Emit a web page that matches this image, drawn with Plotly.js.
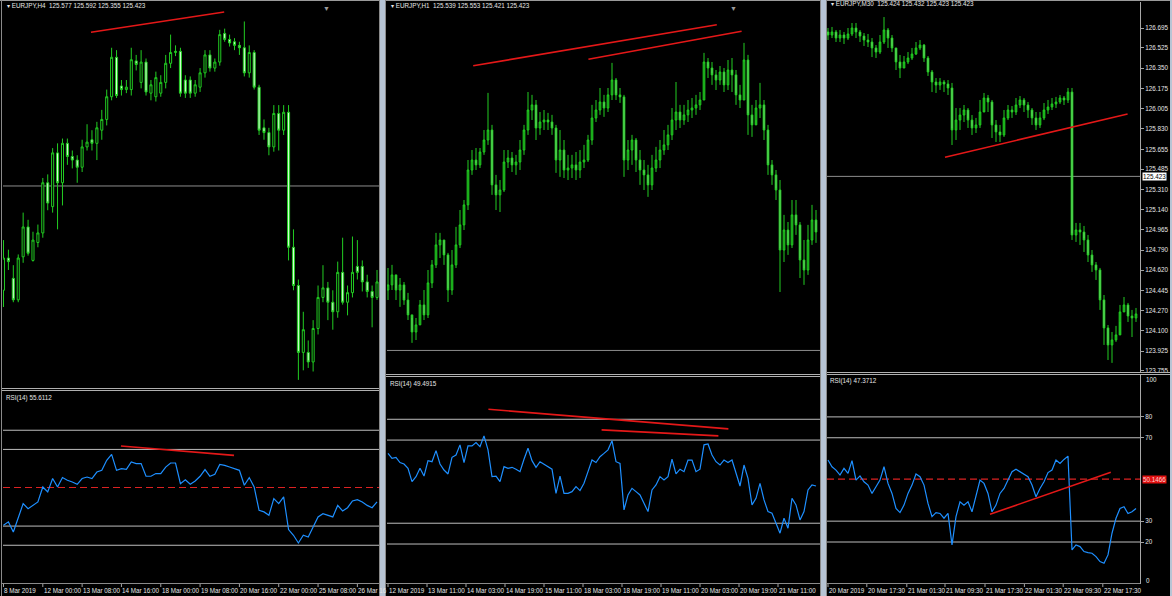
<!DOCTYPE html>
<html>
<head>
<meta charset="utf-8">
<script src="https://cdn.plot.ly/plotly-3.0.1.min.js"></script>
<style>
html,body{margin:0;padding:0;background:#000;overflow:hidden}
#chart{width:1172px;height:596px}
</style>
</head>
<body>
<div id="chart"></div>
<script>
// ================= DATA =================
// --- EURJPY H4 ---
const h4Open = [124.55,124.82,124.65,124.47,124.83,125.08,124.80,124.95,125.03,125.45,125.25,125.70,125.45,125.78,125.67,125.64,125.58,125.75,125.81,125.78,125.89,125.98,126.17,126.50,126.26,126.23,126.23,126.47,126.29,126.46,126.20,126.17,126.20,126.29,126.45,126.54,126.55,126.31,126.31,126.20,126.25,126.37,126.52,126.41,126.46,126.70,126.65,126.63,126.60,126.58,126.37,126.54,126.25,125.91,125.87,125.75,126.03,125.89,126.04,124.91,124.59,124.03,124.03,123.95,124.23,124.49,124.57,124.45,124.37,124.70,124.45,124.53,124.75,124.75,124.62,124.54,124.49];
const h4High = [124.97,124.89,124.76,124.85,125.20,125.14,125.04,125.10,125.49,125.52,125.74,125.78,125.82,125.82,125.72,125.68,125.81,125.94,125.89,125.96,126.06,126.23,126.58,126.56,126.31,126.31,126.58,126.52,126.56,126.49,126.31,126.38,126.35,126.52,126.69,126.60,126.58,126.35,126.34,126.31,126.41,126.56,126.56,126.49,126.73,126.74,126.69,126.66,126.63,126.80,126.60,126.56,126.27,125.98,125.91,126.10,126.10,126.10,126.10,125.06,124.64,124.37,124.13,124.30,124.59,124.76,124.62,124.55,124.79,124.99,124.59,125.00,124.97,124.80,124.68,124.59,124.72];
const h4Low = [124.41,124.72,124.45,124.45,124.78,124.84,124.79,124.91,124.99,125.22,125.20,125.06,125.26,125.60,125.57,125.45,125.54,125.72,125.72,125.64,125.81,125.93,126.14,126.16,126.18,126.20,126.18,126.39,126.24,126.18,126.14,126.13,126.17,126.24,126.41,126.51,126.17,126.16,126.16,126.17,126.21,126.33,126.38,126.38,126.43,126.63,126.59,126.56,126.52,126.34,126.33,126.23,125.85,125.81,125.68,125.71,125.72,125.85,124.80,124.55,123.80,123.88,123.90,123.87,124.18,124.45,124.30,124.22,124.32,124.43,124.34,124.49,124.64,124.54,124.49,124.24,124.47];
const h4Close = [124.82,124.79,124.47,124.82,125.08,124.86,124.97,125.03,125.45,125.28,125.70,125.45,125.78,125.67,125.64,125.58,125.75,125.79,125.78,125.91,125.98,126.17,126.50,126.18,126.23,126.25,126.48,126.44,126.46,126.21,126.27,126.33,126.29,126.45,126.54,126.55,126.20,126.20,126.20,126.27,126.37,126.52,126.41,126.46,126.69,126.65,126.62,126.60,126.58,126.37,126.54,126.25,125.89,125.87,125.75,126.03,125.89,126.04,124.91,124.59,124.03,124.22,123.95,124.23,124.49,124.57,124.45,124.37,124.70,124.45,124.53,124.70,124.70,124.62,124.54,124.49,124.62];
const h4Rsi = [30.4,32.2,26.9,34.8,41.7,39.1,40.8,42.6,50.4,47.8,54.8,50.4,55.3,53.9,53.0,51.8,54.8,55.6,54.8,58.2,59.1,64.3,67.4,59.1,60.0,59.6,63.5,62.6,62.6,56.0,56.0,57.4,57.4,60.8,62.9,62.9,52.1,54.2,51.8,53.5,56.0,59.5,56.0,57.0,62.2,61.7,60.8,60.0,59.1,51.3,55.3,50.4,38.2,37.4,35.6,44.3,41.7,45.2,28.2,25.2,21.2,25.2,24.3,29.5,34.8,36.5,35.6,34.8,40.8,37.9,39.6,43.1,43.8,42.6,40.8,39.6,42.6];
const h4DateIdx = [0,8,16,24,32,40,48,56,64,72];
const h4DateText = ["8 Mar 2019","12 Mar 00:00","13 Mar 08:00","14 Mar 16:00","18 Mar 00:00","19 Mar 08:00","20 Mar 16:00","22 Mar 00:00","25 Mar 08:00","26 Mar 16"];
const h4TrendX = [17.8, 44.9];
const h4TrendY = [126.71, 126.88];
const h4RsiTrendX = [23.9, 46.9];
const h4RsiTrendY = [71.8, 66.9];

// --- EURJPY H1 ---
const h1Open = [125.695,125.718,125.763,125.695,125.718,125.650,125.583,125.506,125.538,125.628,125.583,125.727,125.808,125.898,125.920,125.853,125.695,125.808,125.898,125.988,126.078,126.235,126.280,126.258,126.316,126.370,126.415,126.168,126.123,126.145,126.271,126.289,126.258,126.271,126.325,126.415,126.505,126.528,126.424,126.451,126.460,126.451,126.424,126.280,126.325,126.235,126.244,126.258,126.235,126.271,126.280,126.370,126.469,126.505,126.541,126.514,126.573,126.640,126.573,126.564,126.280,126.325,126.370,126.280,126.235,126.213,126.168,126.244,126.280,126.325,126.348,126.393,126.460,126.496,126.460,126.483,126.505,126.514,126.528,126.550,126.721,126.694,126.663,126.640,126.676,126.618,126.685,126.663,126.573,126.550,126.730,126.483,126.438,126.514,126.528,126.415,126.258,126.213,126.145,125.875,125.965,125.898,126.033,125.988,125.830,125.785,125.920,126.010];
const h1High = [125.794,125.808,125.740,125.749,125.731,125.682,125.569,125.569,125.650,125.695,125.785,125.830,125.952,125.952,125.920,125.862,125.875,125.979,126.055,126.100,126.280,126.325,126.334,126.334,126.415,126.582,126.438,126.213,126.190,126.325,126.325,126.316,126.303,126.370,126.438,126.586,126.573,126.550,126.496,126.505,126.492,126.483,126.438,126.415,126.370,126.303,126.303,126.316,126.325,126.348,126.393,126.528,126.550,126.604,126.573,126.604,126.717,126.649,126.604,126.573,126.370,126.393,126.379,126.325,126.280,126.258,126.303,126.339,126.370,126.415,126.438,126.514,126.631,126.528,126.528,126.550,126.559,126.573,126.586,126.762,126.739,126.721,126.685,126.703,126.694,126.730,126.739,126.685,126.618,126.807,126.753,126.528,126.550,126.627,126.550,126.438,126.280,126.235,126.190,126.033,126.001,126.100,126.100,126.001,125.920,125.988,126.078,126.055];
const h1Low = [125.650,125.695,125.650,125.619,125.628,125.560,125.457,125.470,125.538,125.560,125.569,125.704,125.794,125.839,125.808,125.641,125.673,125.794,125.884,125.965,126.055,126.213,126.235,126.244,126.303,126.348,126.123,126.055,126.046,126.136,126.244,126.226,126.213,126.235,126.303,126.393,126.460,126.370,126.393,126.415,126.415,126.393,126.222,126.204,126.199,126.190,126.199,126.190,126.199,126.244,126.271,126.348,126.451,126.483,126.474,126.496,126.550,126.550,126.537,126.204,126.235,126.258,126.226,126.168,126.145,126.114,126.145,126.226,126.244,126.303,126.325,126.370,126.415,126.424,126.438,126.451,126.469,126.483,126.505,126.550,126.649,126.618,126.595,126.618,126.586,126.595,126.586,126.528,126.514,126.550,126.393,126.384,126.460,126.469,126.370,126.213,126.168,126.100,125.686,125.821,125.853,125.884,125.943,125.749,125.718,125.763,125.898,125.907];
const h1Close = [125.718,125.763,125.695,125.718,125.650,125.583,125.506,125.538,125.628,125.583,125.727,125.808,125.898,125.920,125.853,125.695,125.808,125.898,125.988,126.078,126.235,126.280,126.258,126.316,126.370,126.415,126.168,126.123,126.145,126.271,126.289,126.258,126.271,126.325,126.415,126.505,126.528,126.424,126.451,126.460,126.451,126.424,126.280,126.325,126.235,126.244,126.258,126.235,126.271,126.280,126.370,126.469,126.505,126.541,126.514,126.573,126.640,126.573,126.564,126.280,126.325,126.370,126.280,126.235,126.213,126.168,126.244,126.280,126.325,126.348,126.393,126.460,126.496,126.460,126.483,126.505,126.514,126.528,126.550,126.721,126.694,126.663,126.640,126.676,126.618,126.685,126.663,126.573,126.550,126.730,126.483,126.438,126.514,126.528,126.415,126.258,126.213,126.145,125.875,125.965,125.898,126.033,125.988,125.830,125.785,125.920,126.010,125.956];
const h1Rsi = [63.6,61.2,61.7,59.2,58.5,56.4,50.0,52.4,56.4,52.7,60.1,59.6,64.9,58.5,55.6,53.7,61.7,62.8,67.7,59.2,67.2,67.2,68.8,66.8,72.0,65.3,52.4,52.7,50.0,57.2,56.4,56.9,56.0,54.8,60.8,66.1,60.1,56.9,59.6,58.5,57.2,56.0,44.4,52.7,44.4,44.4,45.2,47.6,45.7,49.2,54.8,60.4,59.2,62.0,63.6,65.3,69.7,59.6,58.8,36.4,43.6,46.8,45.2,43.6,39.6,35.6,46.0,48.4,52.4,50.8,52.4,60.8,53.7,56.0,54.8,60.4,60.4,54.8,56.0,67.7,68.1,62.8,59.6,58.0,60.4,59.2,60.4,54.0,47.9,58.0,51.6,38.8,42.0,49.2,41.2,35.6,34.8,30.0,25.2,32.4,27.6,42.0,38.8,31.6,35.6,46.0,48.4,47.9];
const h1DateIdx = [0,9.75,19.5,29.25,39,48.75,58.5,68.25,78,87.75,97.5];
const h1DateText = ["12 Mar 2019","13 Mar 11:00","14 Mar 03:00","14 Mar 19:00","15 Mar 11:00","18 Mar 03:00","18 Mar 19:00","19 Mar 11:00","20 Mar 03:00","20 Mar 19:00","21 Mar 11:00"];
const h1TrendAX = [21.3, 82.2];
const h1TrendAY = [126.704, 126.889];
const h1TrendBX = [50.1, 88.4];
const h1TrendBY = [126.733, 126.859];
const h1RsiTrendAX = [25.1, 85.1];
const h1RsiTrendAY = [84.8, 75.4];
const h1RsiTrendBX = [53.4, 82.6];
const h1RsiTrendBY = [74.9, 72.0];

// --- EURJPY M30 ---
const m30Open = [126.661,126.635,126.661,126.609,126.635,126.609,126.644,126.695,126.661,126.626,126.592,126.575,126.524,126.489,126.575,126.678,126.609,126.524,126.404,126.352,126.404,126.438,126.472,126.524,126.549,126.438,126.318,126.232,126.206,126.232,126.215,126.181,125.821,125.906,125.949,125.992,125.906,125.838,125.864,125.975,126.095,126.061,125.864,125.804,125.778,125.924,125.992,125.975,126.035,126.078,126.035,125.992,125.924,125.864,125.924,125.992,126.018,126.044,126.061,126.095,126.078,126.146,124.921,124.964,124.946,124.878,124.749,124.664,124.621,124.364,124.124,123.978,124.021,124.064,124.261,124.321,124.226,124.209];
const m30High = [126.695,126.704,126.678,126.678,126.661,126.695,126.738,126.738,126.678,126.652,126.644,126.609,126.549,126.635,126.789,126.695,126.635,126.524,126.464,126.455,126.489,126.524,126.575,126.592,126.558,126.455,126.335,126.266,126.266,126.249,126.249,126.224,126.009,126.009,126.035,126.009,125.949,125.924,126.078,126.138,126.121,126.078,125.906,125.864,125.992,126.035,126.026,126.095,126.112,126.095,126.061,126.009,125.975,125.975,126.052,126.078,126.095,126.104,126.121,126.112,126.181,126.181,125.024,125.024,124.998,124.921,124.792,124.689,124.638,124.406,124.149,124.089,124.141,124.321,124.389,124.338,124.278,124.295];
const m30Low = [126.592,126.609,126.575,126.575,126.558,126.592,126.626,126.609,126.575,126.541,126.532,126.446,126.438,126.472,126.558,126.524,126.489,126.335,126.266,126.352,126.386,126.421,126.464,126.506,126.404,126.284,126.146,126.138,126.164,126.146,126.121,125.692,125.735,125.821,125.889,125.838,125.778,125.795,125.838,125.992,125.975,125.752,125.718,125.718,125.761,125.906,125.924,125.949,126.009,125.975,125.924,125.864,125.821,125.838,125.906,125.958,125.992,126.009,126.044,126.035,126.052,124.878,124.861,124.835,124.775,124.689,124.604,124.535,124.278,123.978,123.849,123.824,124.004,124.175,124.261,124.175,124.046,124.175];
const m30Close = [126.635,126.661,126.609,126.635,126.609,126.644,126.695,126.661,126.626,126.592,126.575,126.524,126.489,126.575,126.678,126.609,126.524,126.404,126.352,126.404,126.438,126.472,126.524,126.549,126.438,126.318,126.232,126.206,126.232,126.215,126.181,125.821,125.906,125.949,125.992,125.906,125.838,125.864,125.975,126.095,126.061,125.864,125.804,125.778,125.924,125.992,125.975,126.035,126.078,126.035,125.992,125.924,125.864,125.924,125.992,126.018,126.044,126.061,126.095,126.078,126.146,124.921,124.964,124.946,124.878,124.749,124.664,124.621,124.364,124.124,123.978,124.021,124.064,124.261,124.321,124.226,124.209,124.244];
const m30Rsi = [59.3,56.1,54.5,52.1,55.3,52.9,59.0,49.7,51.7,48.9,47.3,43.3,46.5,49.7,56.1,48.1,43.3,36.1,34.1,37.7,43.3,47.3,52.6,51.3,47.3,38.5,32.2,34.1,33.7,31.4,33.7,18.6,32.2,39.3,37.7,39.3,34.5,41.7,49.7,48.1,43.3,34.5,37.7,43.3,45.7,49.7,53.7,54.9,53.7,52.1,51.3,47.3,41.7,45.7,48.9,53.3,54.5,59.3,57.7,59.6,61.2,16.2,18.6,17.8,15.4,14.9,14.6,13.0,10.6,9.8,13.8,24.2,31.4,36.1,36.9,33.7,34.5,36.1];
const m30DateIdx = [0,9.7,19.7,29.25,39.25,49.1,58.8,68.7];
const m30DateText = ["20 Mar 2019","20 Mar 17:30","21 Mar 01:30","21 Mar 09:30","21 Mar 17:30","22 Mar 01:30","22 Mar 09:30","22 Mar 17:30"];
const m30PriceTicks = [126.695,126.525,126.350,126.175,126.005,125.830,125.655,125.485,125.310,125.140,124.965,124.790,124.620,124.445,124.270,124.100,123.925,123.755];
const m30TrendX = [29.25, 74.9];
const m30TrendY = [125.587, 125.958];
const m30RsiTrendX = [40.5, 70.7];
const m30RsiTrendY = [33.3, 53.4];

// --- common ---
const bidPrice = 125.423;
const rsiLevels = [80, 70, 30, 20];
const rsiMidLevel = 50.1466;
const rsiScaleEnds = [100, 0];
const headerText = ["EURJPY,H4  125.577 125.592 125.355 125.423","EURJPY,H1  125.539 125.553 125.421 125.423","EURJPY,M30  125.424 125.432 125.423 125.423"];
const rsiText = ["RSI(14) 55.6112","RSI(14) 49.4915","RSI(14) 47.3712"];

// ================= DRAWING =================
const W = 1172, H = 596;
const X = px => px / W;
const Y = py => 1 - py / H;
const FONT = 'Liberation Sans, Arial, sans-serif';
const GREEN = '#22cc22';
const RSI_BLUE = '#1e8fff';
const TREND_RED = '#e41818';

function idx(n){ const a=[]; for(let i=0;i<n;i++) a.push(i); return a; }

// panel geometry in pixels
const panels = [
  {xl:3,   xr:379,  pt:2, pb:388, rt:391.9, rb:583.6, xr0:-0.1,  xr1:76.4, pr:[123.732,126.963], rr:[0,100],
   upFill:'#000000', dnFill:'#d4ffd4'},
  {xl:387, xr:820,  pt:2, pb:374, rt:377.7, rb:583.0, xr0:-0.25, xr1:108,  pr:[125.317,126.991], rr:[1.25,100],
   upFill:'#138a13', dnFill:'#9cf09c'},
  {xl:827, xr:1140, pt:2, pb:372, rt:375.2, rb:583.7, xr0:-0.25, xr1:78,   pr:[123.746,126.918], rr:[0,100],
   upFill:'#18a018', dnFill:'#a8f8a8'}
];

const ohlc = [
  [h4Open,h4High,h4Low,h4Close,h4Rsi],
  [h1Open,h1High,h1Low,h1Close,h1Rsi],
  [m30Open,m30High,m30Low,m30Close,m30Rsi]
];

const traces = [];
const layout = {
  width:W, height:H, margin:{l:0,r:0,t:0,b:0},
  paper_bgcolor:'#000', plot_bgcolor:'#000',
  showlegend:false, boxgap:0.4, dragmode:false,
  font:{family:FONT, size:6, color:'#e6e6e6'},
  shapes:[], annotations:[]
};

panels.forEach((p, k) => {
  const xa = 2*k+1, xb = 2*k+2;
  const xn = xa===1 ? 'x' : 'x'+xa, yn = xa===1 ? 'y' : 'y'+xa;
  const xn2 = 'x'+xb, yn2 = 'y'+xb;
  const [o,h,l,c,r] = ohlc[k];
  traces.push({
    type:'candlestick', whiskerwidth:0, hoverinfo:'skip', showlegend:false,
    x:idx(c.length), open:o, high:h, low:l, close:c, xaxis:xn, yaxis:yn,
    increasing:{line:{color:GREEN,width:1},fillcolor:p.upFill},
    decreasing:{line:{color:GREEN,width:1},fillcolor:p.dnFill}
  });
  traces.push({type:'scatter', mode:'lines', x:idx(r.length), y:r, xaxis:xn2, yaxis:yn2,
    line:{color:RSI_BLUE, width:1.2}, hoverinfo:'skip'});
  const base = {showgrid:false, zeroline:false, showticklabels:false, ticks:'', showline:false, fixedrange:true};
  layout['xaxis'+(xa===1?'':xa)] = Object.assign({}, base, {domain:[X(p.xl),X(p.xr)], range:[p.xr0,p.xr1], anchor:yn, rangeslider:{visible:false}});
  layout['xaxis'+xb] = Object.assign({}, base, {domain:[X(p.xl),X(p.xr)], range:[p.xr0,p.xr1], anchor:yn2});
  layout['yaxis'+(xa===1?'':xa)] = Object.assign({}, base, {domain:[Y(p.pb),Y(p.pt)], range:p.pr, anchor:xn});
  layout['yaxis'+xb] = Object.assign({}, base, {domain:[Y(p.rb),Y(p.rt)], range:p.rr, anchor:xn2});

  // bid line
  layout.shapes.push({type:'line', xref:xn+' domain', x0:0, x1:1, yref:yn, y0:bidPrice, y1:bidPrice,
    line:{color:'#8c8c8c', width:1}, layer:'below'});
  // RSI levels
  rsiLevels.forEach(v => layout.shapes.push({type:'line', xref:xn2+' domain', x0:0, x1:1, yref:yn2, y0:v, y1:v,
    line:{color:'#bdbdbd', width:1}, layer:'below'}));
  if (k !== 1) layout.shapes.push({type:'line', xref:xn2+' domain', x0:0, x1:1, yref:yn2, y0:rsiMidLevel, y1:rsiMidLevel,
    line:{color:'#dc2222', width:1.1, dash:'7px,4px'}, layer:'below'});

  // header / indicator captions
  layout.annotations.push({xref:'paper', yref:'paper', x:X(p.xl+2), y:Y(k===2?3.5:5.5), xanchor:'left', yanchor:'middle',
    text:'\u25BE '+headerText[k], showarrow:false, font:{size:6.3, color:'#e6e6e6'}});
  layout.annotations.push({xref:'paper', yref:'paper', x:X(p.xl+1), y:Y(p.rt+6), xanchor:'left', yanchor:'middle',
    text:rsiText[k], showarrow:false, font:{size:6.3, color:'#e6e6e6'}});
});

// trend lines
const trendPairs = [
  [h4TrendX,h4TrendY,'x','y'], [h4RsiTrendX,h4RsiTrendY,'x2','y2'],
  [h1TrendAX,h1TrendAY,'x3','y3'], [h1TrendBX,h1TrendBY,'x3','y3'],
  [h1RsiTrendAX,h1RsiTrendAY,'x4','y4'], [h1RsiTrendBX,h1RsiTrendBY,'x4','y4'],
  [m30TrendX,m30TrendY,'x5','y5'], [m30RsiTrendX,m30RsiTrendY,'x6','y6']
];
trendPairs.forEach(([tx,ty,xa,ya]) => traces.push({type:'scatter', mode:'lines', x:tx, y:ty, xaxis:xa, yaxis:ya,
  line:{color:TREND_RED, width:1.6}, hoverinfo:'skip'}));

// M30 right price axis
Object.assign(layout.yaxis5, {side:'right', showticklabels:true, tickvals:m30PriceTicks,
  ticktext:m30PriceTicks.map(v=>v.toFixed(3)), ticks:'outside', ticklen:3, tickcolor:'#a0a0a0',
  showline:true, linecolor:'#a8a8a8', linewidth:1, tickfont:{size:6.3, color:'#e6e6e6'}});
Object.assign(layout.yaxis6, {side:'right', showticklabels:true, tickvals:rsiLevels,
  ticktext:rsiLevels.map(String), ticks:'outside', ticklen:3, tickcolor:'#a0a0a0',
  showline:true, linecolor:'#a8a8a8', linewidth:1, tickfont:{size:6.3, color:'#e6e6e6'}});
// scale end labels of the RSI window (drawn just inside the window like the terminal does)
layout.annotations.push({xref:'paper', yref:'paper', x:X(1144), y:Y(379.5), xanchor:'left', yanchor:'middle',
  text:String(rsiScaleEnds[0]), showarrow:false, font:{size:6.3, color:'#e6e6e6'}});
layout.annotations.push({xref:'paper', yref:'paper', x:X(1144), y:Y(580), xanchor:'left', yanchor:'middle',
  text:String(rsiScaleEnds[1]), showarrow:false, font:{size:6.3, color:'#e6e6e6'}});
layout.annotations.push({xref:'paper', yref:'y5', x:X(1142), y:bidPrice, xanchor:'left', yanchor:'middle',
  text:bidPrice.toFixed(3), showarrow:false, bgcolor:'#ffffff', borderpad:0, font:{size:6.3, color:'#000'}});
layout.annotations.push({xref:'paper', yref:'y6', x:X(1142), y:rsiMidLevel, xanchor:'left', yanchor:'middle',
  text:rsiMidLevel.toFixed(4), showarrow:false, bgcolor:'#e01010', borderpad:0, font:{size:6.3, color:'#ffd0d0'}});

// date labels
[[h4DateIdx,h4DateText,'x2'],[h1DateIdx,h1DateText,'x4'],[m30DateIdx,m30DateText,'x6']].forEach(([ix,tx,xa]) => {
  ix.forEach((v,i) => {
    layout.annotations.push({xref:xa, yref:'paper', x:v, y:Y(590), xanchor:'left', yanchor:'middle', xshift:-1,
      text:tx[i], showarrow:false, font:{size:6.3, color:'#e6e6e6'}});
    layout.shapes.push({type:'line', xref:xa, yref:'paper', x0:v, x1:v, y0:Y(584), y1:Y(587), line:{color:'#a0a0a0', width:1}});
  });
});

// frames & separators (paper pixels)
function pline(x0,y0,x1,y1,color,w){ layout.shapes.push({type:'line', xref:'paper', yref:'paper', x0:X(x0), y0:Y(y0), x1:X(x1), y1:Y(y1), line:{color:color, width:w||1}}); }
function prect(x0,y0,x1,y1,color){ layout.shapes.push({type:'rect', xref:'paper', yref:'paper', x0:X(x0), y0:Y(y0), x1:X(x1), y1:Y(y1), fillcolor:color, line:{width:0}}); }
pline(0,0.5,1172,0.5,'#9a9a9a');
prect(380,0,385,596,'#b7c4d4');
prect(821,0,826,596,'#b7c4d4');
prect(1170,0,1172,596,'#b7c4d4');
pline(1.5,0,1.5,596,'#8a8a8a'); pline(379.5,0,379.5,596,'#8a8a8a');
pline(385.5,0,385.5,596,'#8a8a8a'); pline(820.5,0,820.5,596,'#8a8a8a');
pline(826.5,0,826.5,596,'#8a8a8a');
// price / indicator separators
pline(2,388.5,379,388.5,'#b0b0b0'); pline(2,390.5,379,390.5,'#b0b0b0');
pline(386,374.5,820,374.5,'#b0b0b0'); pline(386,376.5,820,376.5,'#b0b0b0');
pline(827,372.5,1170,372.5,'#b0b0b0'); pline(827,374.5,1170,374.5,'#b0b0b0');
// date strip top
pline(2,583.5,379,583.5,'#8a8a8a'); pline(386,583.5,820,583.5,'#8a8a8a'); pline(827,583.5,1140,583.5,'#8a8a8a');
// chart shift markers
layout.annotations.push({xref:'paper', yref:'paper', x:X(321), y:Y(3), text:'\u25BC', showarrow:false, font:{size:7, color:'#9a9a9a'}});
layout.annotations.push({xref:'paper', yref:'paper', x:X(733), y:Y(3), text:'\u25BC', showarrow:false, font:{size:7, color:'#9a9a9a'}});

Plotly.newPlot('chart', traces, layout, {displayModeBar:false, staticPlot:true});
</script>
</body>
</html>
